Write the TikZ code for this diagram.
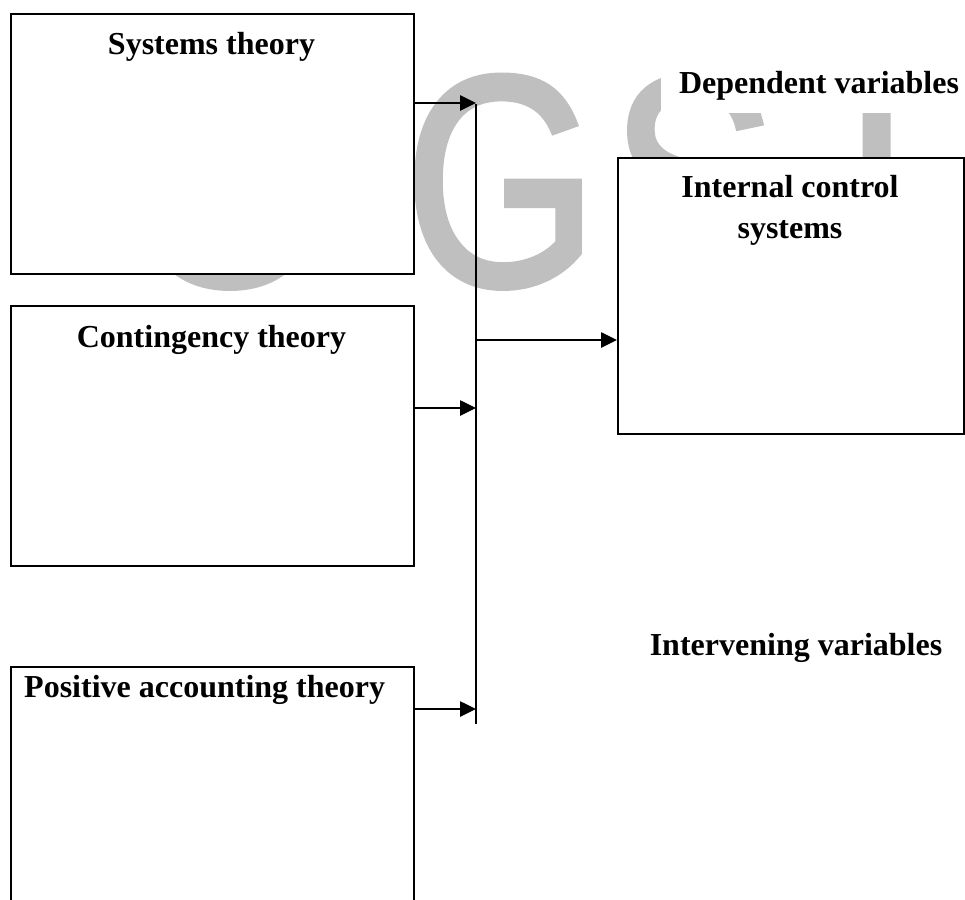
\documentclass[tikz,border=0pt]{standalone}
\usepackage{fontspec}
\usepackage{graphicx}
\setmainfont{Liberation Serif}
\newfontfamily\wmfont[FakeBold=2]{Liberation Sans}
\usetikzlibrary{arrows.meta}
\begin{document}
\begin{tikzpicture}[x=1pt,y=-1pt,
  box/.style={draw, line width=2.4pt, fill=white, rectangle, anchor=north west, inner sep=0pt},
  title/.style={font=\bfseries\fontsize{32}{41}\selectfont, inner sep=0pt, align=center},
  arr/.style={line width=2.6pt, -{Triangle[length=16pt,width=15pt]}},
  bus/.style={line width=1.6pt},
  wm/.style={text=black!25, font=\wmfont\fontsize{300}{300}\selectfont, inner sep=0pt, anchor=base west}]
\useasboundingbox (0,0) rectangle (965,899);
\clip (0,0) rectangle (965,899);

% background watermark letters
\node[wm] (wmO) at (125,285) {\scalebox{0.9}[1]{O}};
\node[wm] (wmG) at (404,285) {\scalebox{0.83}[1]{G}};
\node[wm] (wmS) at (610,285) {\scalebox{0.83}[1]{S}};
\node[wm] (wmJ) at (782,285) {\scalebox{0.83}[1]{J}};

% theory boxes
\node[box, minimum width=403pt, minimum height=260pt] (sys)  at (10,13)  {};
\node[box, minimum width=403pt, minimum height=260pt] (cont) at (10,305) {};
\node[box, minimum width=403pt, minimum height=270pt] (pos)  at (10,666) {};
\node[box, minimum width=346pt, minimum height=276pt] (ict)  at (617,157) {};

% box titles
\node[title, anchor=base] (sysT)  at (211.5,55)  {Systems theory};
\node[title, anchor=base] (contT) at (211.5,347) {Contingency theory};
\node[title, anchor=base west] (posT) at (24,697) {Positive accounting theory};
\node[title, anchor=north] (ictT) at (790,175) {Internal control\\systems};

% variable headings
\node[title, anchor=base, fill=white, inner xsep=18pt, inner ysep=13pt] (dep) at (819,93) {Dependent variables};
\node[title, anchor=base] (interv) at (796,655) {Intervening variables};

% collecting bus and its junctions
\coordinate (busTop) at (476,104);
\coordinate (busBot) at (476,724);
\coordinate (j1) at (476,103);
\coordinate (j2) at (476,408);
\coordinate (j3) at (476,709);
\coordinate (j4) at (476,340);
\draw[bus] (busTop) -- (busBot);

% arrows into the bus and out to the dependent variable
\draw[arr] (sys.east |- j1) -- (j1);
\draw[arr] (cont.east |- j2) -- (j2);
\draw[arr] (pos.east |- j3) -- (j3);
\draw[arr] (j4) -- (ict.west |- j4);
\end{tikzpicture}
\end{document}
